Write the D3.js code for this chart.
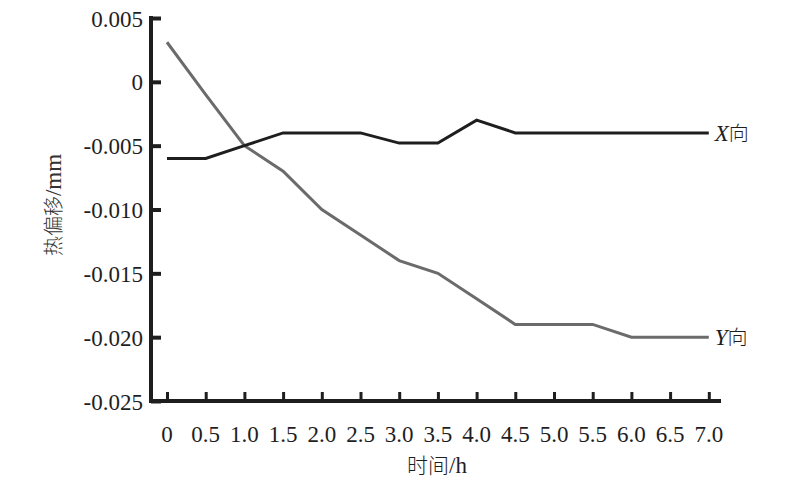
<!DOCTYPE html>
<html><head><meta charset="utf-8">
<script src="https://cdn.jsdelivr.net/npm/d3@7/dist/d3.min.js"></script>
<style>body{margin:0;background:#fff}svg{display:block}</style>
</head><body>
<svg id="c" width="806" height="497"></svg>
<script>
const times = [0,0.5,1.0,1.5,2.0,2.5,3.0,3.5,4.0,4.5,5.0,5.5,6.0,6.5,7.0];
const xTickLabels = ["0","0.5","1.0","1.5","2.0","2.5","3.0","3.5","4.0","4.5","5.0","5.5","6.0","6.5","7.0"];
const xSeries = [-0.006,-0.006,-0.005,-0.004,-0.004,-0.004,-0.0048,-0.0048,-0.003,-0.004,-0.004,-0.004,-0.004,-0.004,-0.004];
const ySeries = [0.0031,-0.001,-0.005,-0.007,-0.010,-0.012,-0.014,-0.015,-0.017,-0.019,-0.019,-0.019,-0.020,-0.020,-0.020];
const yTicks = [0.005,0,-0.005,-0.010,-0.015,-0.020,-0.025];
const yTickLabels = ["0.005","0","-0.005","-0.010","-0.015","-0.020","-0.025"];

const svg = d3.select("#c");
const x = d3.scaleLinear().domain([0,7]).range([167,708.8]);
const y = d3.scaleLinear().domain([-0.025,0.005]).range([401,18]);
const serif = "'Liberation Serif','Times New Roman',serif";
const cjk = "'Noto Sans CJK SC',sans-serif";
const axisColor = "#1e1e1e";

// Y axis
const yAxis = svg.append("g").attr("transform","translate(151,0)")
  .call(d3.axisRight(y).tickValues(yTicks).tickSize(10).tickFormat((d,i)=>yTickLabels[i]));
yAxis.select(".domain").remove();
yAxis.selectAll(".tick line").attr("stroke",axisColor).attr("stroke-width",4);
yAxis.selectAll(".tick text").attr("x",-8).attr("text-anchor","end").attr("dy","0.35em")
  .attr("font-family",serif).attr("font-size",23).attr("fill","#1e1e1e");
svg.append("line").attr("x1",151).attr("x2",151).attr("y1",y(0.005)-2).attr("y2",403)
  .attr("stroke",axisColor).attr("stroke-width",4);

// X axis
const xAxis = svg.append("g").attr("transform","translate(0,401)")
  .call(d3.axisTop(x).tickValues(times).tickSize(9).tickFormat(()=>""));
xAxis.select(".domain").remove();
xAxis.selectAll(".tick line").attr("stroke",axisColor).attr("stroke-width",3);
svg.append("line").attr("x1",149).attr("x2",721).attr("y1",401).attr("y2",401)
  .attr("stroke",axisColor).attr("stroke-width",4);
svg.append("g").selectAll("text").data(times).join("text")
  .attr("x",d=>x(d)).attr("y",442).attr("text-anchor","middle")
  .attr("font-family",serif).attr("font-size",23).attr("fill","#1e1e1e")
  .text((d,i)=>xTickLabels[i]);

// titles
const xt = svg.append("text").attr("x",437).attr("y",473).attr("text-anchor","middle")
  .attr("font-size",21).attr("fill","#1e1e1e");
xt.append("tspan").attr("font-family",cjk).attr("font-weight",300).text("时间");
xt.append("tspan").attr("font-family",serif).attr("font-size",23).text("/h");
const yt = svg.append("text").attr("transform","translate(61,205) rotate(-90)").attr("text-anchor","middle")
  .attr("font-size",20).attr("fill","#333");
yt.append("tspan").attr("font-family",cjk).attr("font-weight",300).text("热偏移");
yt.append("tspan").attr("font-family",serif).attr("font-size",23).text("/mm");

// lines
const line = d3.line().x((d,i)=>x(times[i])).y(d=>y(d));
svg.append("path").datum(ySeries).attr("d",line).attr("fill","none")
  .attr("stroke","#6b6b6b").attr("stroke-width",3).attr("stroke-linejoin","miter");
svg.append("path").datum(xSeries).attr("d",line).attr("fill","none")
  .attr("stroke","#1e1e1e").attr("stroke-width",3).attr("stroke-linejoin","miter");

// series labels
function lab(txt, val){
  const t = svg.append("text").attr("x",x(7)+6).attr("y",y(val)).attr("dy","0.35em")
    .attr("font-size",23).attr("fill","#1e1e1e");
  t.append("tspan").attr("font-family",serif).attr("font-style","italic").text(txt);
  t.append("tspan").attr("font-family",cjk).attr("font-weight",300).attr("font-size",20).text("向");
}
lab("X", xSeries[xSeries.length-1]);
lab("Y", ySeries[ySeries.length-1]);
</script>
</body></html>
